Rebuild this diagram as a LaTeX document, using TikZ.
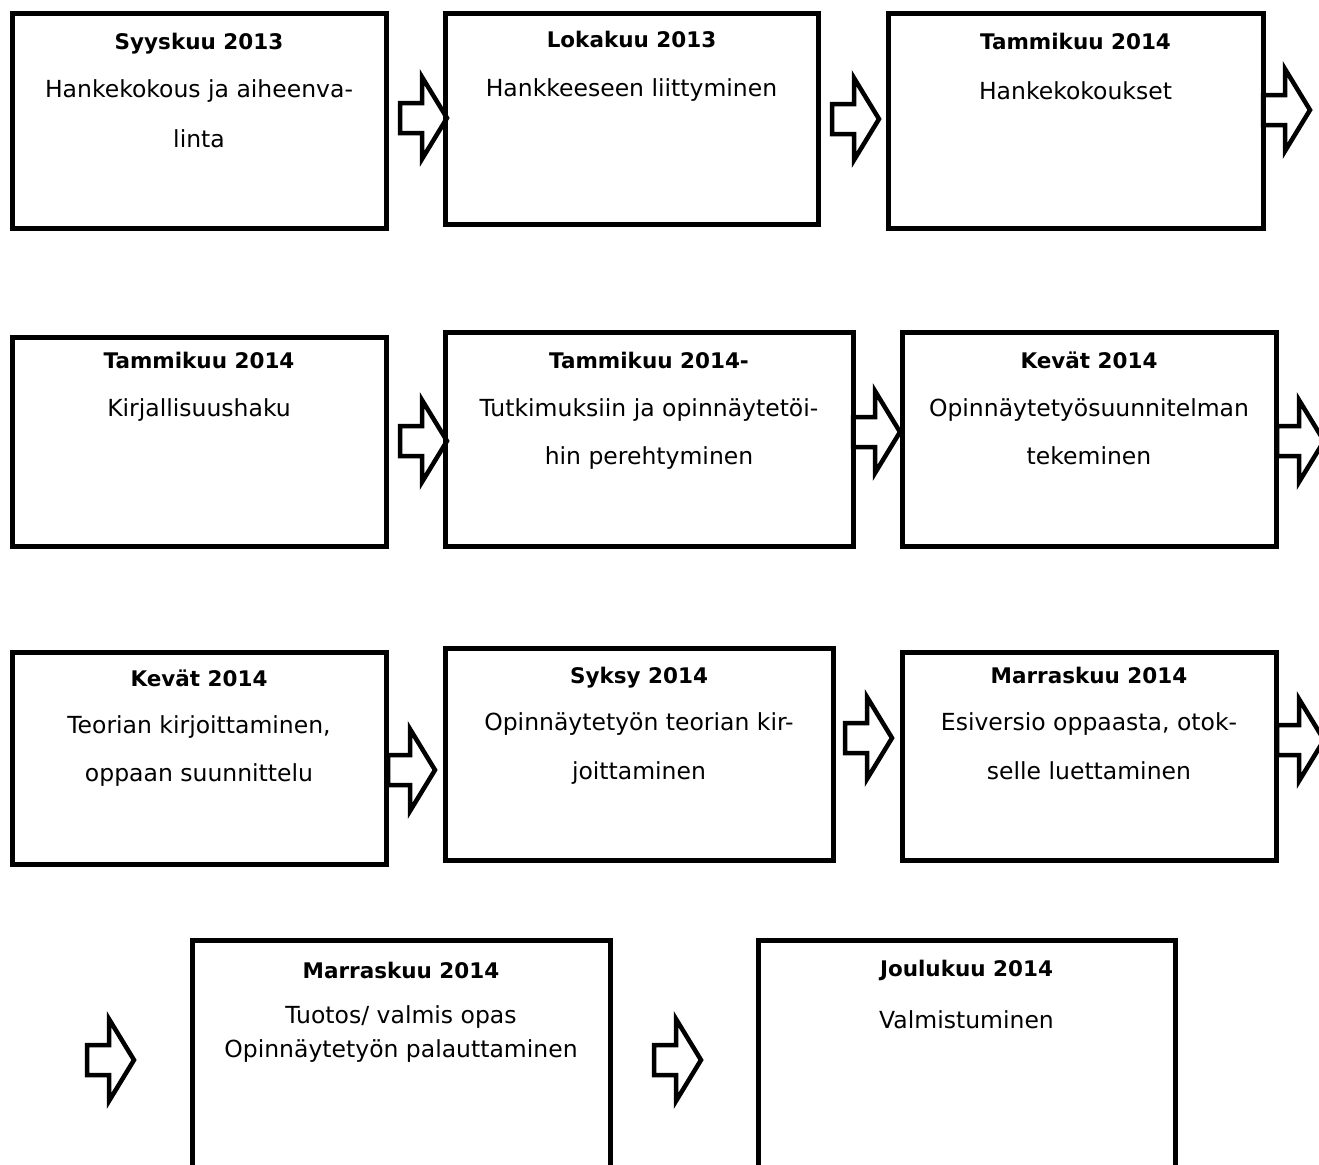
\documentclass[tikz,border=0pt]{standalone}
\usepackage{fontspec}
\setmainfont{DejaVu Sans}
\tikzset{
	laatikko/.style={draw, line width=5pt, inner sep=0pt},
	otsikko/.style={anchor=base, font=\fontsize{21.5}{26}\selectfont\bfseries},
	teksti/.style={anchor=base, font=\fontsize{23.5}{28}\selectfont},
	nuoli/.style={draw, line width=4.5pt, fill=white, line join=miter},
}
% leveä nuoli: vasen reuna x, keskikohta y
\newcommand{\nuoli}[2]{\draw[nuoli] (#1,#2) ++(0,-15) -- ++(22,0) -- ++(0,-26) -- ++(25,41) -- ++(-25,41) -- ++(0,-26) -- ++(-22,0) -- cycle;}
\begin{document}
\begin{tikzpicture}[x=1pt, y=-1pt]
			\clip (0,0) rectangle (1319,1164);
			\fill[white] (0,0) rectangle (1319,1164);
			% nuolet
			\nuoli{400}{118}
			\nuoli{832}{119}
			\nuoli{1263}{110}
			\nuoli{400}{441}
			\nuoli{853}{432}
			\nuoli{1277}{441}
			\nuoli{388}{770}
			\nuoli{845}{738}
			\nuoli{1277}{740}
			\nuoli{87}{1060}
			\nuoli{654}{1060}
			% rivi 1
			\node[laatikko, minimum width=374pt, minimum height=214pt] (syys) at (199,121) {};
			\node[otsikko] at (syys.center |- 0,50) {Syyskuu 2013};
			\node[teksti] at (syys.center |- 0,97) {Hankekokous ja aiheenva-};
			\node[teksti] at (syys.center |- 0,147) {linta};
			\node[laatikko, minimum width=373pt, minimum height=210pt] (loka) at (631.5,119) {};
			\node[otsikko] at (loka.center |- 0,48) {Lokakuu 2013};
			\node[teksti] at (loka.center |- 0,96) {Hankkeeseen liittyminen};
			\node[laatikko, minimum width=375pt, minimum height=214pt] (tammi) at (1075.5,121) {};
			\node[otsikko] at (tammi.center |- 0,50) {Tammikuu 2014};
			\node[teksti] at (tammi.center |- 0,99) {Hankekokoukset};
			% rivi 2
			\node[laatikko, minimum width=374pt, minimum height=209pt] (haku) at (199,441.5) {};
			\node[otsikko] at (haku.center |- 0,368) {Tammikuu 2014};
			\node[teksti] at (haku.center |- 0,416) {Kirjallisuushaku};
			\node[laatikko, minimum width=408pt, minimum height=214pt] (tutk) at (649,439) {};
			\node[otsikko] at (tutk.center |- 0,368) {Tammikuu 2014-};
			\node[teksti] at (tutk.center |- 0,416) {Tutkimuksiin ja opinnäytetöi-};
			\node[teksti] at (tutk.center |- 0,464) {hin perehtyminen};
			\node[laatikko, minimum width=374pt, minimum height=214pt] (suun) at (1089,439) {};
			\node[otsikko] at (suun.center |- 0,368) {Kevät 2014};
			\node[teksti] at (suun.center |- 0,416) {Opinnäytetyösuunnitelman};
			\node[teksti] at (suun.center |- 0,464) {tekeminen};
			% rivi 3
			\node[laatikko, minimum width=374pt, minimum height=212pt] (teor) at (199,758) {};
			\node[otsikko] at (teor.center |- 0,686) {Kevät 2014};
			\node[teksti] at (teor.center |- 0,733) {Teorian kirjoittaminen,};
			\node[teksti] at (teor.center |- 0,781) {oppaan suunnittelu};
			\node[laatikko, minimum width=388pt, minimum height=212pt] (syksy) at (639,754) {};
			\node[otsikko] at (syksy.center |- 0,683) {Syksy 2014};
			\node[teksti] at (syksy.center |- 0,730) {Opinnäytetyön teorian kir-};
			\node[teksti] at (syksy.center |- 0,779) {joittaminen};
			\node[laatikko, minimum width=374pt, minimum height=208pt] (esi) at (1089,756) {};
			\node[otsikko] at (esi.center |- 0,683) {Marraskuu 2014};
			\node[teksti] at (esi.center |- 0,730) {Esiversio oppaasta, otok-};
			\node[teksti] at (esi.center |- 0,779) {selle luettaminen};
			% rivi 4
			\node[laatikko, minimum width=418pt, minimum height=240pt] (opas) at (401,1060) {};
			\node[otsikko] at (opas.center |- 0,978) {Marraskuu 2014};
			\node[teksti] at (opas.center |- 0,1023) {Tuotos/ valmis opas};
			\node[teksti] at (opas.center |- 0,1057) {Opinnäytetyön palauttaminen};
			\node[laatikko, minimum width=417pt, minimum height=240pt] (valm) at (966.5,1060) {};
			\node[otsikko] at (valm.center |- 0,976) {Joulukuu 2014};
			\node[teksti] at (valm.center |- 0,1028) {Valmistuminen};
		\end{tikzpicture}
\end{document}
